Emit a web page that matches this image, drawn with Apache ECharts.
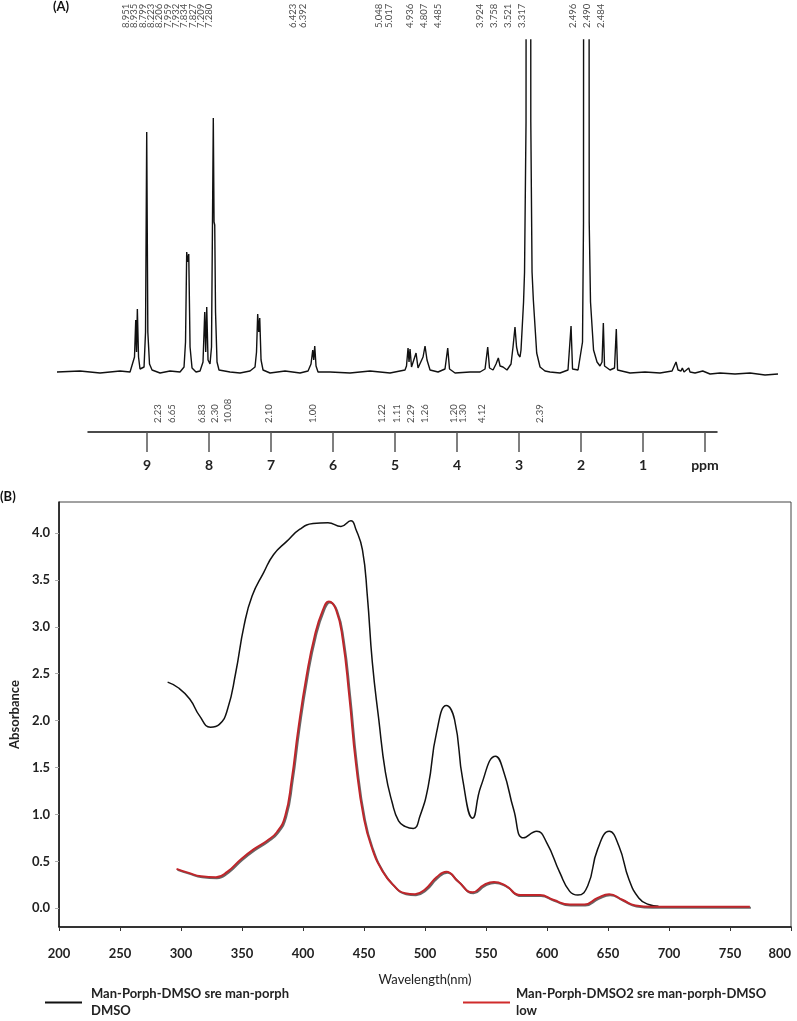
<!DOCTYPE html>
<html lang="en">
<head>
<meta charset="UTF-8">
<title>NMR / UV-Vis</title>
<script src="https://cdn.jsdelivr.net/npm/echarts@6/dist/echarts.min.js"></script>
<style>
    html, body {margin: 0; padding: 0; background: #fff;}
    #main {width: 797px; height: 1021px;}
</style>
</head>
<body>
<div id="main"></div>
<script>
// ---- (A) 1H NMR: [ppm on the drawn scale, height] ----
var nmrTrace = [
    [10.452,0],[10.081,1],[9.758,-1],[9.435,1],[9.274,0],[9.242,2],[9.202,15],[9.182,52],[9.169,20],[9.156,63],
    [9.137,15],[9.113,3],[9.081,1],[9.048,5],[9.024,40],[9.005,240],[8.987,40],[8.960,8],[8.919,2],[8.790,-1],
    [8.629,1],[8.468,0],[8.403,5],[8.379,30],[8.360,120],[8.344,110],[8.327,118],[8.306,25],[8.274,4],[8.210,0],
    [8.145,1],[8.097,10],[8.069,60],[8.053,20],[8.037,65],[8.016,12],[7.984,8],[7.960,25],[7.931,254],[7.919,150],
    [7.908,147],[7.895,60],[7.871,10],[7.839,2],[7.661,0],[7.500,-1],[7.339,1],[7.258,5],[7.234,20],[7.215,58],
    [7.198,40],[7.182,54],[7.161,12],[7.129,2],[7.016,-1],[6.774,1],[6.532,-1],[6.403,1],[6.355,8],[6.327,22],
    [6.311,12],[6.295,26],[6.274,6],[6.242,0],[6.048,0],[5.726,-1],[5.403,1],[5.081,-1],[4.839,2],[4.815,6],
    [4.790,24],[4.774,10],[4.758,23],[4.734,5],[4.710,3],[4.661,19],[4.629,4],[4.597,5],[4.548,15],[4.516,26],
    [4.484,12],[4.435,2],[4.306,0],[4.194,3],[4.150,24],[4.121,3],[4.032,-1],[3.790,0],[3.629,0],[3.548,3],
    [3.505,25],[3.476,4],[3.419,2],[3.371,8],[3.334,14],[3.306,6],[3.258,5],[3.194,2],[3.129,8],[3.097,25],
    [3.065,45],[3.040,25],[3.016,18],[2.984,15],[2.968,22],[2.927,70],[2.911,100],[2.887,250],[2.877,1500],[2.819,1500],
    [2.810,250],[2.790,100],[2.769,72],[2.715,19],[2.661,5],[2.581,1],[2.500,0],[2.339,-1],[2.210,2],[2.161,46],
    [2.137,3],[2.048,2],[2.016,4],[1.976,30],[1.960,150],[1.952,1500],[1.879,1500],[1.868,150],[1.847,70],[1.798,22],
    [1.742,10],[1.694,6],[1.661,10],[1.640,49],[1.621,6],[1.532,2],[1.460,4],[1.431,43],[1.411,2],[1.210,-1],
    [0.968,0],[0.726,-1],[0.532,1],[0.468,10],[0.435,2],[0.387,1],[0.366,4],[0.339,0],[0.263,4],[0.242,0],
    [0.161,-1],[0.037,1],[-0.081,-2],[-0.242,-1],[-0.484,-2],[-0.726,-1],[-0.968,-3],[-1.177,-2]
];
var shiftLabels = ['8.951','8.935','8.799','8.223','8.206','7.959','7.932','7.834','7.827','7.209','7.280',
    '6.423','6.392','5.048','5.017','4.936','4.807','4.485','3.924','3.758','3.521','3.317','2.496','2.490','2.484'];
var shiftLabelPpm = [9.34,9.21,9.07,8.94,8.80,8.67,8.53,8.40,8.26,8.13,8.00,
    6.65,6.48,5.26,5.10,4.76,4.53,4.31,3.63,3.40,3.18,2.95,2.13,1.90,1.68];
var integrals = ['2.23','6.65','6.83','2.30','10.08','2.10','1.00','1.22','1.11','2.29','1.26','1.20','1.30','4.12','2.39'];
var integralPpm = [8.83,8.59,8.12,7.90,7.69,7.04,6.32,5.21,4.97,4.75,4.52,4.05,3.91,3.60,2.66];
var ppmTicks = [9, 8, 7, 6, 5, 4, 3, 2, 1, 0];

// ---- (B) UV-Vis ----
var seriesNames = ['Man-Porph-DMSO sre man-porph DMSO', 'Man-Porph-DMSO2 sre man-porph-DMSO low'];
var blackNm = [289, 297.7, 307.1, 315.2, 324.1, 331.4, 338.1, 344.8, 351.6, 358.3, 367.8, 375.9, 386.6, 397.4,
    408.2, 420.4, 431.1, 439.2, 443.3, 448.7, 452.7, 456.8, 462.1, 467.5, 473, 478.3, 484, 490.4, 495.8, 502.6,
    509.4, 517.5, 524.2, 530.9, 539, 545.8, 557.9, 564.6, 572.7, 580.8, 591.6, 599.7, 610.5, 618.6, 625.3,
    633.4, 641.5, 651, 659, 667.1, 675.2, 683.3, 691.4];
var blackAbs = [2.41, 2.35, 2.23, 2.05, 1.93, 1.96, 2.12, 2.51, 3.01, 3.33, 3.58, 3.77, 3.91, 4.04,
    4.10, 4.11, 4.07, 4.13, 4.04, 3.82, 3.33, 2.62, 2.01, 1.45, 1.13, 0.93, 0.87, 0.85, 0.98, 1.30,
    1.87, 2.16, 2.01, 1.37, 0.96, 1.30, 1.62, 1.45, 1.05, 0.75, 0.82, 0.70, 0.38, 0.18, 0.14,
    0.24, 0.63, 0.82, 0.66, 0.31, 0.11, 0.04, 0.02];
var redNm = [296.3, 305.7, 316.5, 328.6, 338.1, 348.9, 359.7, 370.5, 378.5, 385.3, 390.7, 396.1, 402.8, 409.5,
    416.3, 421.2, 427.1, 432.5, 437.9, 443.3, 450, 456.8, 464.9, 473, 483.7, 491.8, 499.9, 509.4, 517.5, 526.8,
    539, 548.4, 556.5, 566, 578.1, 594.3, 605, 618.6, 630.7, 641.5, 651, 661.8, 672.5, 686, 726.5, 766.3];
var redAbs = [0.42, 0.38, 0.34, 0.33, 0.39, 0.52, 0.63, 0.72, 0.81, 0.98, 1.37, 1.91, 2.47, 2.90,
    3.18, 3.27, 3.18, 2.87, 2.26, 1.55, 0.95, 0.63, 0.40, 0.26, 0.16, 0.15, 0.20, 0.33, 0.39, 0.29,
    0.17, 0.25, 0.28, 0.24, 0.14, 0.14, 0.09, 0.04, 0.04, 0.11, 0.15, 0.09, 0.03, 0.015, 0.015, 0.015];
var absTicks = [0, 0.5, 1, 1.5, 2, 2.5, 3, 3.5, 4];

function zip(xs, ys) {
    var out = [];
    for (var i = 0; i < xs.length; i++) out.push([xs[i], ys[i]]);
    return out;
}
function labelPoints(ppm, texts, y) {
    var out = [];
    for (var i = 0; i < ppm.length; i++) out.push({value: [ppm[i], y], name: texts[i]});
    return out;
}
function twoLines(name) {
    return name.replace(/ (\S+)$/, '\n$1');
}

var chart = echarts.init(document.getElementById('main'));
var rotLabel = {
    show: true, position: 'inside', rotate: 90, align: 'left', verticalAlign: 'middle',
    formatter: '{b}', fontSize: 9.5, color: '#222'
};

chart.setOption({
    animation: false,
    textStyle: {fontFamily: 'Lato'},
    title: [
        {text: '(A)', left: 53, top: 0, padding: 0, textStyle: {fontSize: 13, fontWeight: 'bold', color: '#111'}},
        {text: '(B)', left: 0, top: 490, padding: 0, textStyle: {fontSize: 13, fontWeight: 'bold', color: '#111'}}
    ],
    legend: [
        {
            data: [seriesNames[0]], left: 45, top: 977, padding: 0, selectedMode: false,
            icon: 'rect', itemWidth: 37, itemHeight: 2, formatter: twoLines,
            textStyle: {fontSize: 13, fontWeight: 'bold', color: '#222', lineHeight: 17, padding: [17, 0, 0, 4]}
        },
        {
            data: [seriesNames[1]], left: 463, top: 977, padding: 0, selectedMode: false,
            icon: 'rect', itemWidth: 47, itemHeight: 2, formatter: twoLines,
            textStyle: {fontSize: 13, fontWeight: 'bold', color: '#222', lineHeight: 17, padding: [17, 0, 0, 1]}
        }
    ],
    grid: [
        {left: 57, right: 19, top: 40, bottom: 629},
        {left: 88, right: 80, top: 392, bottom: 589},
        {left: 49, right: 6, top: 502, bottom: 94, show: true, borderColor: '#444', borderWidth: 1},
        {left: 57, right: 19, top: 0, height: 40}
    ],
    xAxis: [
        {gridIndex: 0, type: 'value', min: -1.177, max: 10.452, inverse: true, show: false},
        {
            gridIndex: 1, type: 'value', min: -0.194, max: 9.952, inverse: true,
            axisLine: {lineStyle: {color: '#111', width: 1.5}},
            axisTick: {show: true, inside: false, length: 20, customValues: ppmTicks,
                lineStyle: {color: '#555', width: 1.5}},
            axisLabel: {customValues: ppmTicks, margin: 26, fontSize: 14, fontWeight: 'bold', color: '#222',
                formatter: function (v) { return v === 0 ? 'ppm' : String(v); }},
            splitLine: {show: false}
        },
        {
            gridIndex: 2, type: 'value', min: 200, max: 800, interval: 50,
            name: 'Wavelength(nm)', nameLocation: 'middle', nameGap: 46,
            nameTextStyle: {fontSize: 13, color: '#222'},
            axisLine: {onZero: false, lineStyle: {color: '#111', width: 1.5}},
            axisTick: {length: 4, lineStyle: {color: '#333'}},
            axisLabel: {margin: 20, fontSize: 13, fontWeight: 'bold', color: '#222', alignMaxLabel: 'right'},
            splitLine: {show: false}
        },
        {gridIndex: 3, type: 'value', min: -1.177, max: 10.452, inverse: true, show: false}
    ],
    yAxis: [
        {gridIndex: 0, type: 'value', min: -20, max: 332, show: false},
        {gridIndex: 1, type: 'value', min: 0, max: 40, show: false},
        {
            gridIndex: 2, type: 'value', min: -0.2, max: 4.33,
            name: 'Absorbance', nameLocation: 'middle', nameRotate: 90, nameGap: 38,
            nameTextStyle: {fontSize: 13, fontWeight: 'bold', color: '#222'},
            axisLine: {show: true, onZero: false, lineStyle: {color: '#111', width: 1.5}},
            axisTick: {show: true, length: 4, customValues: absTicks, lineStyle: {color: '#aaa'}},
            axisLabel: {customValues: absTicks, margin: 9, fontSize: 13, fontWeight: 'bold', color: '#222',
                formatter: function (v) { return v.toFixed(1); }},
            splitLine: {show: false}
        },
        {gridIndex: 3, type: 'value', min: 0, max: 40, show: false}
    ],
    series: [
        {
            type: 'line', xAxisIndex: 0, yAxisIndex: 0, data: nmrTrace, showSymbol: false, clip: true,
            lineStyle: {color: '#111', width: 1.4}, silent: true
        },
        {
            type: 'scatter', xAxisIndex: 3, yAxisIndex: 3, symbolSize: 0, clip: false, silent: true,
            data: labelPoints(shiftLabelPpm, shiftLabels, 12), label: rotLabel
        },
        {
            type: 'scatter', xAxisIndex: 1, yAxisIndex: 1, symbolSize: 0, clip: false, silent: true,
            data: labelPoints(integralPpm, integrals, 9), label: rotLabel
        },
        {
            name: seriesNames[0], type: 'line', xAxisIndex: 2, yAxisIndex: 2, data: zip(blackNm, blackAbs),
            showSymbol: false, smooth: 0.5, color: '#111',
            lineStyle: {color: '#111', width: 1.5}
        },
        {
            name: seriesNames[1], type: 'line', xAxisIndex: 2, yAxisIndex: 2, data: zip(redNm, redAbs),
            showSymbol: false, smooth: 0.5, color: '#d02b2b',
            lineStyle: {color: '#c0262b', width: 2, shadowColor: 'rgba(0,0,0,0.6)', shadowOffsetX: 1, shadowOffsetY: 1, shadowBlur: 0}
        }
    ]
});
</script>
</body>
</html>
